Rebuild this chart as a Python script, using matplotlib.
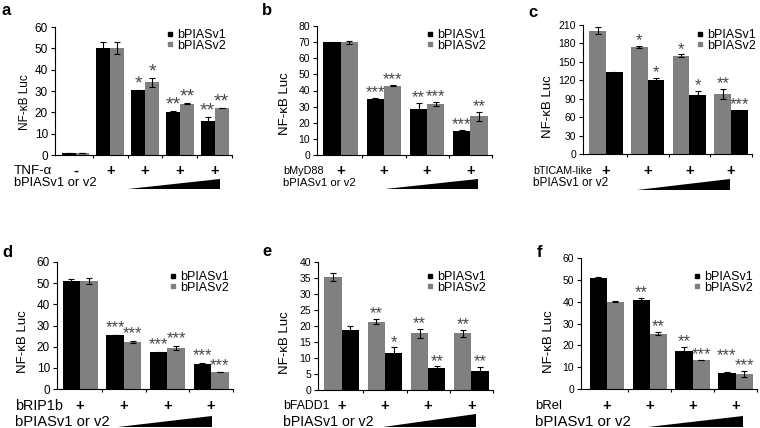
import numpy as np
import matplotlib.pyplot as plt
from matplotlib.lines import Line2D
from matplotlib.patches import Polygon
from matplotlib.transforms import blended_transform_factory

plt.rcParams['font.family'] = ['Liberation Sans', 'DejaVu Sans']

W, H = 760, 428
BLACK = '#000000'
GRAY = '#808080'
STAR = '#474747'

# a: TNF-alpha
a_v1 = [1.0, 50.0, 30.3, 20.2, 15.8]
a_v1_err = [0.1, 2.8, 0.3, 0.3, 2.2]
a_v2 = [1.0, 50.0, 34.0, 24.0, 22.0]
a_v2_err = [0.1, 2.8, 2.3, 0.3, 0.0]
a_v1_sig = ['', '', '*', '**', '**']
a_v2_sig = ['', '', '*', '**', '**']
a_signs = ['-', '+', '+', '+', '+']
a_yticks = [0, 10, 20, 30, 40, 50, 60]

# b: bMyD88
b_v1 = [70.0, 34.8, 28.5, 15.0]
b_v1_err = [0.3, 0.5, 4.0, 0.4]
b_v2 = [69.8, 43.0, 31.5, 24.0]
b_v2_err = [0.7, 0.3, 1.2, 2.7]
b_v1_sig = ['', '***', '**', '***']
b_v2_sig = ['', '***', '***', '**']
b_yticks = [0, 10, 20, 30, 40, 50, 60, 70, 80]

# c: bTICAM-like (v2 bars drawn first)
c_v1 = [133.0, 120.0, 96.0, 71.0]
c_v1_err = [1.0, 4.0, 7.0, 1.0]
c_v2 = [201.0, 174.0, 160.0, 98.0]
c_v2_err = [6.0, 2.0, 2.0, 8.0]
c_v1_sig = ['', '*', '*', '***']
c_v2_sig = ['', '*', '*', '**']
c_yticks = [0, 30, 60, 90, 120, 150, 180, 210]

# d: bRIP1b
d_v1 = [51.0, 25.5, 17.3, 12.0]
d_v1_err = [1.2, 0.1, 0.4, 0.3]
d_v2 = [51.0, 22.3, 19.3, 7.8]
d_v2_err = [1.3, 0.5, 1.0, 0.0]
d_v1_sig = ['', '***', '***', '***']
d_v2_sig = ['', '***', '***', '***']
d_yticks = [0, 10, 20, 30, 40, 50, 60]

# e: bFADD1 (v2 bars drawn first)
e_v1 = [18.7, 11.7, 6.8, 5.8]
e_v1_err = [1.2, 1.6, 0.6, 1.3]
e_v2 = [35.3, 21.3, 17.8, 17.8]
e_v2_err = [1.3, 0.8, 1.4, 1.1]
e_v1_sig = ['', '*', '**', '**']
e_v2_sig = ['', '**', '**', '**']
e_yticks = [0, 5, 10, 15, 20, 25, 30, 35, 40]

# f: bRel
f_v1 = [51.0, 40.8, 17.5, 7.5]
f_v1_err = [0.3, 0.8, 1.8, 0.2]
f_v2 = [40.0, 25.3, 13.5, 6.8]
f_v2_err = [0.3, 0.7, 0.0, 1.3]
f_v1_sig = ['', '**', '**', '***']
f_v2_sig = ['', '**', '***', '***']
f_yticks = [0, 10, 20, 30, 40, 50, 60]

plus_signs = ['+', '+', '+', '+']

fig = plt.figure(figsize=(W / 100, H / 100), dpi=100)


def fy(py):
    return 1 - py / H


def panel(letter, data, signs, yticks, stim, box, xlim, gray_first=False,
          letter_xy=(0, 0), rows=(0, 0, 0), wedge=(1, 3, 0, 0), leg=(0, 0),
          ylab=(30, 0.4), fs=7.5, rfs=(9, 9), sfs=12, sdy=0.5, yfs=9.5):
    left, right, top, bottom = box
    ax = fig.add_axes([left / W, fy(bottom), (right - left) / W, (bottom - top) / H])
    ax.set_xlim(*xlim)
    ax.set_ylim(0, yticks[-1])
    v1, e1, v2, e2, s1, s2 = data
    x = np.arange(len(v1))
    bw = 0.4
    series = [(v1, e1, s1, BLACK), (v2, e2, s2, GRAY)]
    if gray_first:
        series = series[::-1]
    px_per_y = (bottom - top) / yticks[-1]
    px_per_x = (right - left) / (xlim[1] - xlim[0])
    star_w = 0.389 * sfs * 100 / 72
    for k, (vals, errs, sigs, col) in enumerate(series):
        xs = x + (k - 0.5) * bw
        ax.bar(xs, vals, bw, color=col, yerr=errs, capsize=2,
               error_kw=dict(ecolor='black', elinewidth=0.8, capthick=0.8))

    # star labels; lift the left label when two labels in a group would collide
    lv, le, ls_, _ = series[0]
    rv, re_, rs, _ = series[1]
    for i in x:
        yl = lv[i] + le[i]
        yr = rv[i] + re_[i]
        lift = 0.0
        if ls_[i] and rs[i]:
            wsum = (len(ls_[i]) + len(rs[i])) * star_w / 2
            dy = (yl - yr) * px_per_y
            if wsum > bw * px_per_x + 2 and abs(dy) < 10:
                lift = (10 - dy) * 72 / 100
        for xi, yv, s, extra in [(i - bw / 2, yl, ls_[i], lift), (i + bw / 2, yr, rs[i], 0.0)]:
            if s:
                ax.annotate(s, (xi, yv), xytext=(0, sdy + extra), textcoords='offset points',
                            ha='center', va='baseline', fontsize=sfs, color=STAR)

    ax.set_yticks(yticks)
    ax.set_xticks(np.arange(0.5, len(v1)))
    ax.set_xticklabels([])
    ax.tick_params(axis='y', direction='out', length=3, width=0.8, labelsize=fs, pad=2)
    ax.tick_params(axis='x', direction='out', length=2, width=0.8)
    for sp in ['top', 'right']:
        ax.spines[sp].set_visible(False)
    for sp in ['left', 'bottom']:
        ax.spines[sp].set_linewidth(0.8)
    ax.set_ylabel('NF-κB Luc', fontsize=yfs, va='center')
    ax.yaxis.set_label_coords(-ylab[0] / (right - left), ylab[1])

    handles = [Line2D([], [], ls='', marker='s', ms=3.5, color=BLACK, label='bPIASv1'),
               Line2D([], [], ls='', marker='s', ms=3.5, color=GRAY, label='bPIASv2')]
    ax.legend(handles=handles, loc='upper left', bbox_to_anchor=(leg[0] / W, fy(leg[1])),
              bbox_transform=fig.transFigure, frameon=False, fontsize=9,
              handlelength=0.5, handletextpad=0.3, labelspacing=-0.1,
              borderpad=0, borderaxespad=0)

    fig.text(letter_xy[0] / W, fy(letter_xy[1]), letter, fontsize=12,
             fontweight='bold', ha='left', va='baseline')

    # rows below the axis
    rx, ry1, ry2 = rows
    fig.text(rx / W, fy(ry1), stim, fontsize=rfs[0], ha='left', va='center')
    fig.text(rx / W, fy(ry2), 'bPIASv1 or v2', fontsize=rfs[1], ha='left', va='center')
    tr = blended_transform_factory(ax.transData, fig.transFigure)
    for xi, s in zip(x, signs):
        ax.text(xi, fy(ry1), s, transform=tr, ha='center', va='center',
                fontsize=10.5, fontweight='bold', clip_on=False)
    x0, x1, wt, wb = wedge
    ax.add_patch(Polygon([(x0, fy(wb)), (x1, fy(wb)), (x1, fy(wt))], closed=True,
                         transform=tr, facecolor='black', edgecolor='none', clip_on=False))
    return ax


panel('a', (a_v1, a_v1_err, a_v2, a_v2_err, a_v1_sig, a_v2_sig), a_signs, a_yticks, 'TNF-α',
      box=(55, 232, 27, 155), xlim=(-0.59, 4.5), letter_xy=(2, 15),
      rows=(14, 171, 183), wedge=(1.5, 4.15, 179, 189), leg=(167, 29),
      ylab=(30, 0.414), fs=8.5, rfs=(9.6, 9.3), sfs=14, sdy=1.0, yfs=8.5)
panel('b', (b_v1, b_v1_err, b_v2, b_v2_err, b_v1_sig, b_v2_sig), plus_signs, b_yticks, 'bMyD88',
      box=(317, 492, 26, 155), xlim=(-0.55, 3.5), letter_xy=(262, 15),
      rows=(283, 171, 183), wedge=(1.03, 3.17, 179, 189), leg=(427, 29),
      ylab=(32, 0.40), fs=7.5, rfs=(7.8, 8.2))
panel('c', (c_v1, c_v1_err, c_v2, c_v2_err, c_v1_sig, c_v2_sig), plus_signs, c_yticks, 'bTICAM-like',
      box=(583, 752, 25, 154), xlim=(-0.55, 3.5), gray_first=True, letter_xy=(528, 17),
      rows=(533, 171, 183), wedge=(0.74, 2.97, 179, 190), leg=(697, 29),
      ylab=(35, 0.364), fs=7.5, rfs=(7.7, 8.5))
panel('d', (d_v1, d_v1_err, d_v2, d_v2_err, d_v1_sig, d_v2_sig), plus_signs, d_yticks, 'bRIP1b',
      box=(57, 233, 262, 389), xlim=(-0.53, 3.5), letter_xy=(2, 257),
      rows=(15, 406, 422), wedge=(0.87, 3.02, 416, 427), leg=(170, 271),
      ylab=(34, 0.37), fs=8.5, rfs=(10.4, 10.6), sdy=2.0)
panel('e', (e_v1, e_v1_err, e_v2, e_v2_err, e_v1_sig, e_v2_sig), plus_signs, e_yticks, 'bFADD1',
      box=(318, 493, 262, 390), xlim=(-0.55, 3.5), gray_first=True, letter_xy=(262, 256),
      rows=(283, 406, 422), wedge=(0.95, 3.11, 414, 427), leg=(427, 271),
      ylab=(33, 0.37), fs=7.5, rfs=(8.8, 10.2))
panel('f', (f_v1, f_v1_err, f_v2, f_v2_err, f_v1_sig, f_v2_sig), plus_signs, f_yticks, 'bRel',
      box=(581, 757, 258, 389), xlim=(-0.6, 3.5), letter_xy=(537, 257),
      rows=(535, 406, 422), wedge=(0.97, 3.18, 416, 427), leg=(694, 271),
      ylab=(32, 0.36), fs=7.5, rfs=(9.4, 10.8))

fig.savefig('out.png', dpi=100)
